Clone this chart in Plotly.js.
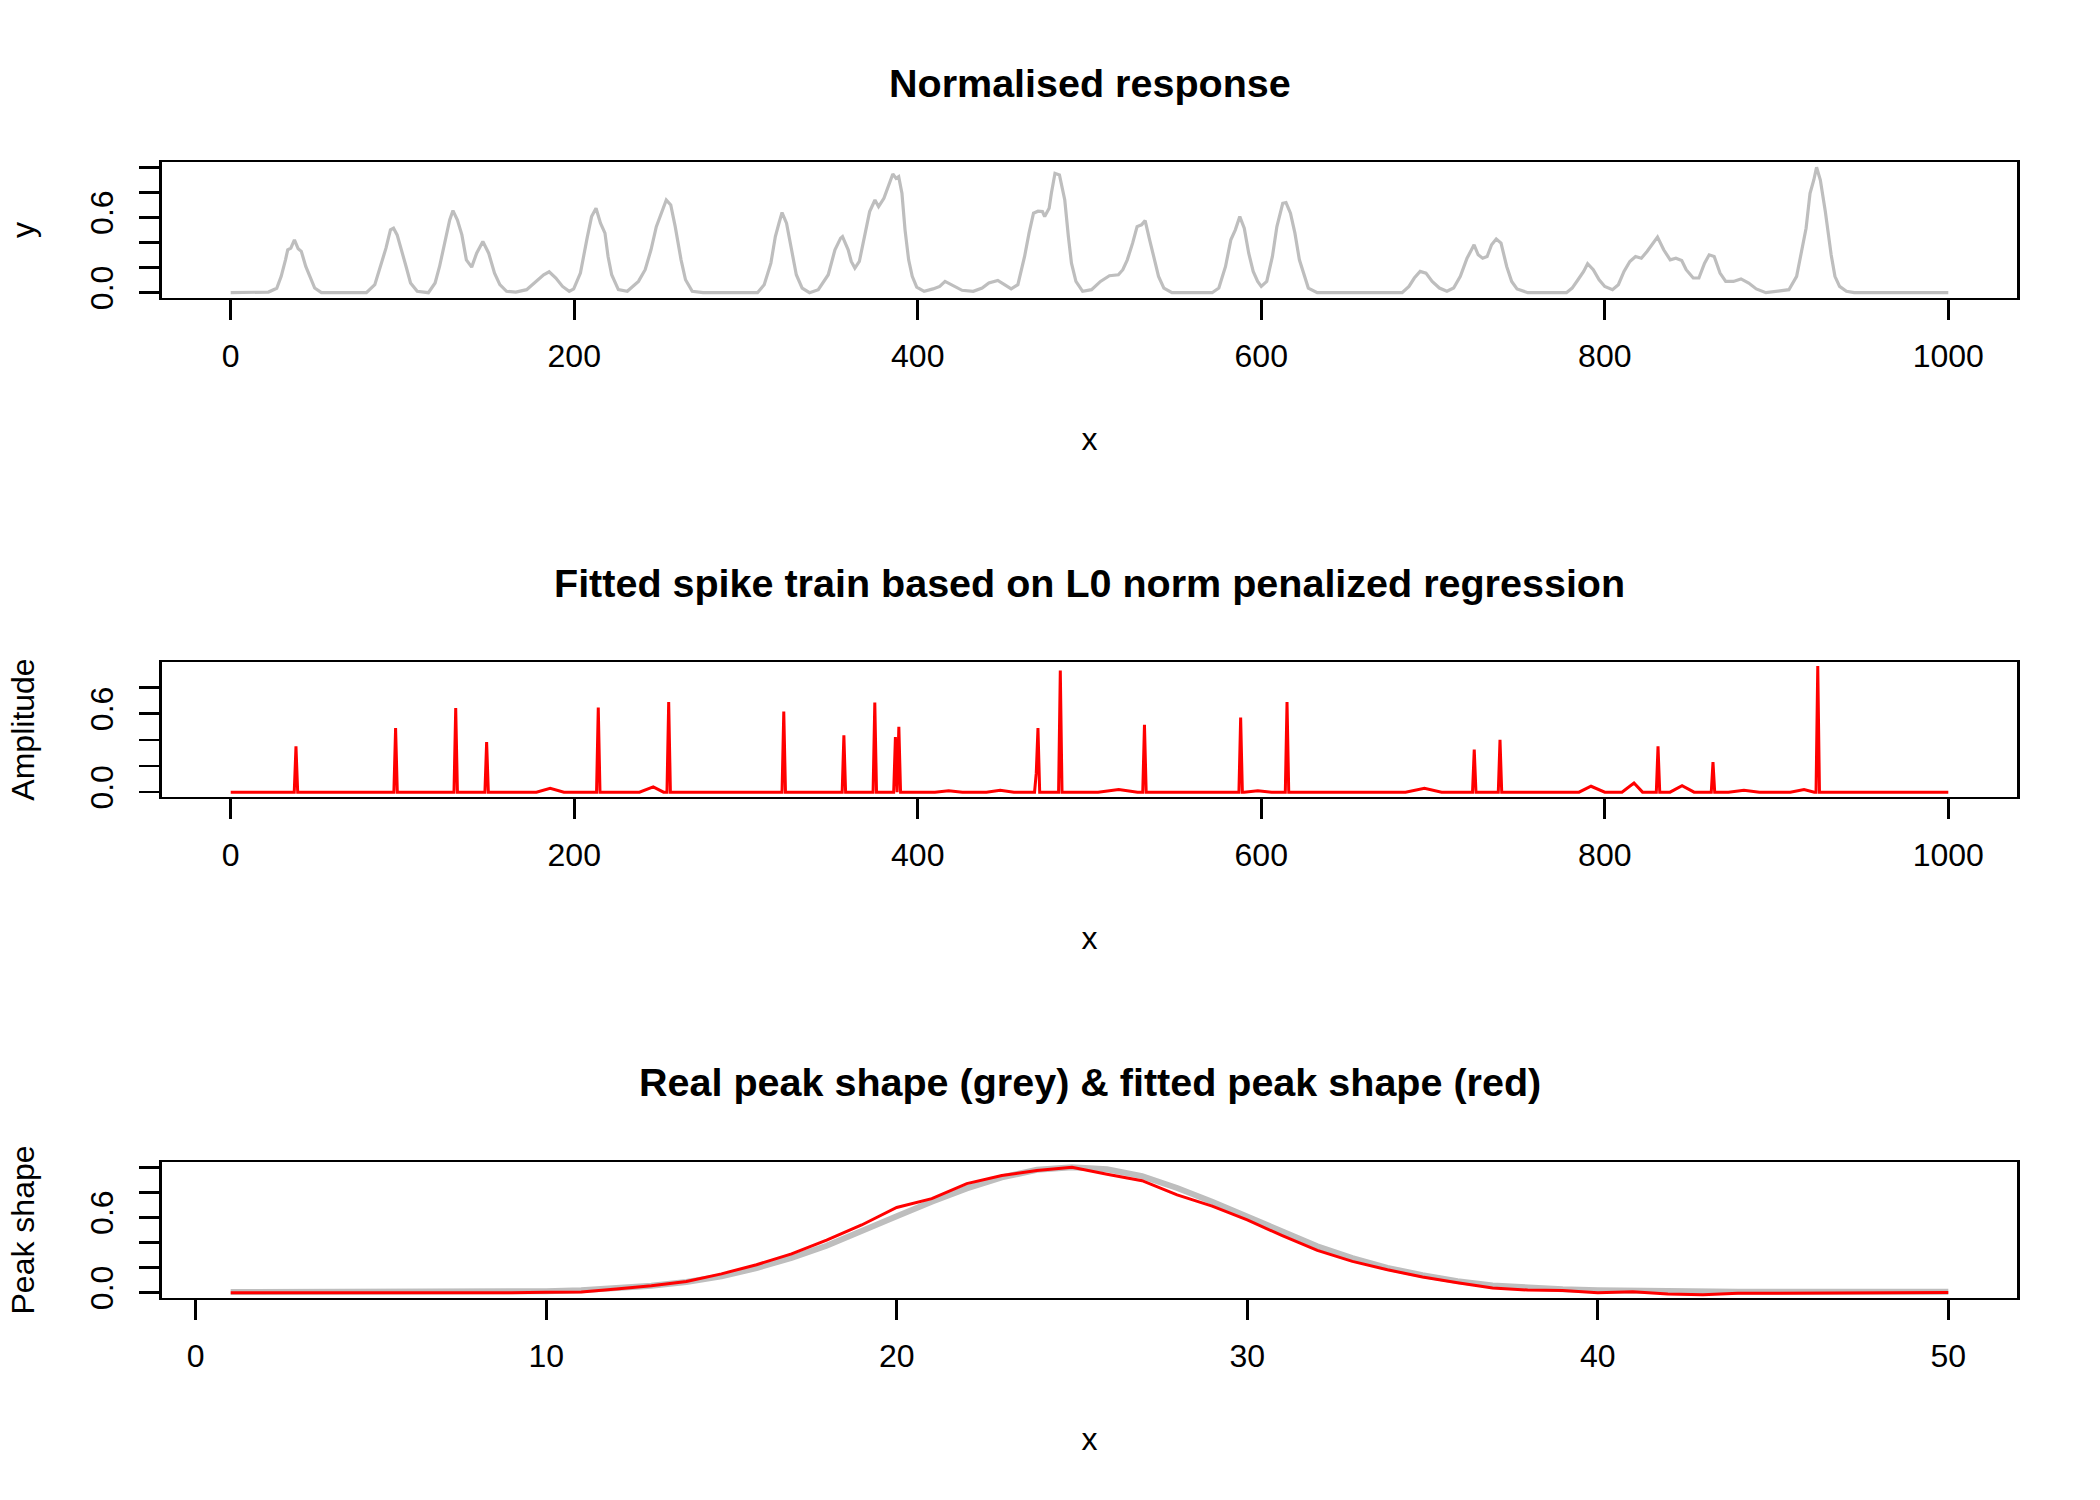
<!DOCTYPE html>
<html><head><meta charset="utf-8">
<script src="https://cdn.plot.ly/plotly-3.0.1.min.js"></script>
<style>html,body{margin:0;padding:0;background:#fff}#chart{width:2100px;height:1500px}</style>
</head><body><div id="chart"></div>
<script>
// ---- Panel 1: normalised response ----
const topX = [0,19,22,26.8,29.4,31.9,33.2,35,37.1,39.3,41.1,43.7,46.3,48.9,52.8,79,83.9,87.8,90.4,93,94.8,96.9,99.5,102.1,104.7,108.6,115.1,119,121.6,125.5,127.5,129.4,132,134.6,137.2,140.3,143.2,146.8,150.2,153.6,156.7,160.6,166,172.3,177.5,182.2,185.4,189.3,193.2,197.1,199.7,203.6,207.5,210.1,212.7,215.3,217.9,219.7,221.8,225.7,230.9,237.4,241.3,244.7,247.8,250.4,253.6,256.2,258.8,262.2,264.8,268.7,275,306.7,310.6,314.5,317.1,319.2,321,323.6,326.2,329.3,332.7,337,342.1,347.9,351.8,355.1,356.2,359.5,361.3,363.4,366,368.6,372,375.1,377.2,380.3,382.9,385.5,387.4,388.9,390.8,392.6,394.7,396.8,399.4,403.7,408.9,412.8,415.9,420.6,425.8,432.3,437.5,441.4,446.6,450.5,454.4,458.3,462.2,464.8,467.4,470,472.6,473.9,476.5,477.8,479.9,482.5,485.6,487.7,489.5,492.1,496,501.2,506.4,511.6,516.8,519.4,522,525.1,527.7,530.3,532.4,535,537.6,540.2,543.3,548,571.4,575.3,579.2,582.3,584.9,587.5,590.1,592.7,595.3,597.9,600,603.2,606.5,609.1,612.5,614.4,617,619.6,622.2,624.8,627.4,632.6,682,686,689.1,692.5,695.9,699.5,703.7,708.1,712,715.9,719.8,722.4,723.9,726.3,728.9,731.5,734.1,736.8,739.6,742.9,745.8,748.9,755.2,777.7,781,784.4,787.7,790,793.3,796.7,800,804.5,807.9,811.2,814.6,817.9,821.3,824.6,827.3,830.7,834.3,838.1,841.4,844.8,847.4,851.5,854.8,858.1,860.8,863.7,867.1,870.4,874.9,879.3,883.8,888.2,893.8,907.2,911.7,915,917.2,919.5,921.7,923.3,925.5,928.4,931.8,934,936.7,940.7,945.2,1000];
const topY = [0,0,0.005,0.035,0.13,0.262,0.342,0.355,0.422,0.35,0.33,0.21,0.118,0.037,0,0,0.064,0.236,0.355,0.501,0.514,0.461,0.342,0.209,0.077,0.011,0,0.077,0.209,0.461,0.58,0.655,0.58,0.461,0.262,0.204,0.315,0.408,0.315,0.156,0.064,0.011,0.005,0.024,0.09,0.143,0.167,0.117,0.05,0.011,0.03,0.156,0.435,0.607,0.673,0.554,0.475,0.289,0.143,0.024,0.011,0.09,0.183,0.342,0.527,0.62,0.739,0.70,0.527,0.262,0.103,0.011,0,0,0.064,0.236,0.448,0.554,0.639,0.554,0.368,0.143,0.037,0,0.024,0.143,0.342,0.435,0.448,0.342,0.249,0.196,0.249,0.422,0.647,0.739,0.686,0.753,0.846,0.947,0.912,0.925,0.793,0.501,0.262,0.13,0.045,0.011,0.03,0.05,0.09,0.056,0.019,0.011,0.037,0.077,0.098,0.064,0.03,0.064,0.289,0.475,0.634,0.65,0.647,0.607,0.673,0.793,0.952,0.939,0.739,0.448,0.236,0.09,0.011,0.024,0.09,0.135,0.143,0.183,0.262,0.395,0.527,0.541,0.575,0.422,0.262,0.13,0.037,0,0,0.037,0.209,0.422,0.501,0.607,0.514,0.315,0.17,0.09,0.05,0.09,0.289,0.527,0.713,0.718,0.634,0.475,0.262,0.156,0.037,0,0,0.05,0.117,0.17,0.156,0.09,0.037,0.011,0.037,0.13,0.275,0.342,0.382,0.302,0.275,0.289,0.382,0.428,0.395,0.209,0.09,0.03,0,0,0.037,0.103,0.17,0.231,0.183,0.103,0.05,0.024,0.064,0.17,0.249,0.289,0.275,0.328,0.382,0.443,0.342,0.262,0.275,0.257,0.183,0.117,0.117,0.236,0.302,0.289,0.156,0.09,0.09,0.11,0.077,0.03,0,0.024,0.13,0.368,0.514,0.793,0.899,1.0,0.899,0.647,0.302,0.13,0.05,0.011,0,0];

// ---- Panel 2: fitted spike train ----
const spikeX = [38,96,131,149,214,255,322,357,375,387,389,469,470,483,532,588,615,724,739,831,863,924];
const spikeH = [0.35,0.49,0.643,0.384,0.648,0.689,0.617,0.434,0.686,0.422,0.50,0.145,0.49,0.93,0.516,0.571,0.689,0.325,0.40,0.35,0.23,0.965];
const baseX = [0,178,186,194,238,246,252,410,418,426,440,448,456,505,517,528,590,598,606,684,695,705,785,792,800,810,817,822,838,845,852,872,881,890,908,916,922,1000];
const baseY = [0,0,0.03,0,0,0.04,0,0,0.01,0,0,0.015,0,0,0.02,0,0,0.01,0,0,0.03,0,0,0.045,0,0,0.07,0,0,0.05,0,0,0.015,0,0,0.02,0,0];

// ---- Panel 3: peak shapes ----
const shapeX = [1,2,3,4,5,6,7,8,9,10,11,12,13,14,15,16,17,18,19,20,21,22,23,24,25,26,27,28,29,30,31,32,33,34,35,36,37,38,39,40,41,42,43,44,45,46,47,48,49,50];
const realShape = [0.005,0.005,0.005,0.005,0.005,0.005,0.005,0.006,0.008,0.012,0.02,0.034,0.056,0.085,0.13,0.196,0.278,0.374,0.487,0.61,0.726,0.832,0.92,0.98,1.0,0.985,0.93,0.835,0.726,0.607,0.487,0.37,0.275,0.198,0.14,0.092,0.058,0.038,0.027,0.02,0.015,0.012,0.01,0.008,0.008,0.008,0.008,0.008,0.008,0.008];
const fittedShape = [0.0,0.0,-0.003,-0.005,-0.005,-0.004,-0.003,-0.002,0.0,0.003,0.005,0.03,0.055,0.09,0.15,0.223,0.31,0.42,0.54,0.68,0.75,0.87,0.935,0.975,1.0,0.945,0.893,0.78,0.69,0.58,0.455,0.337,0.25,0.183,0.125,0.08,0.037,0.021,0.018,0.0,0.008,-0.01,-0.016,-0.005,-0.003,-0.003,-0.002,0.0,0.001,0.002];

// ---- Ticks and labels ----
const xTicksLong = [0,200,400,600,800,1000];
const xTicksShort = [0,10,20,30,40,50];
const yTicks6 = [0,0.2,0.4,0.6,0.8,1.0];
const yText6 = ['0.0','','','0.6','',''];
const yTicks5 = [0,0.2,0.4,0.6,0.8];
const yText5 = ['0.0','','','0.6',''];
const panelTitles = ['Normalised response','Fitted spike train based on L0 norm penalized regression','Real peak shape (grey) & fitted peak shape (red)'];
const yTitles = ['y','Amplitude','Peak shape'];

// build spike-train line from sparse readings
const amp = {};
baseX.forEach((x,i)=>{amp[x]=baseY[i];});
spikeX.forEach(x=>{
  [x-1,x+1].forEach(n=>{ if(spikeX.indexOf(n)<0) amp[n]=0; });
});
spikeX.forEach((x,i)=>{amp[x]=spikeH[i];});
const ampX = Object.keys(amp).map(Number).sort((a,b)=>a-b);
const ampY = ampX.map(x=>amp[x]);

const FONT = 'Liberation Sans, Arial, sans-serif';
const LW = 2.7;
const W = 2100, H = 1500;
const xDom = [162/W, 2017/W];
const boxes = [[162.3,297.7],[662.3,796.7],[1162.3,1297.7]];
const yDom = boxes.map(b=>[1-b[1]/H, 1-b[0]/H]);
const titleY = [83, 582.6, 1082].map(v=>1-v/H);

function xax(dom, range, ticks, anchor){
  return {domain:dom, range:range, anchor:anchor, showline:true, mirror:true, linecolor:'#000', linewidth:LW,
    ticks:'outside', ticklen:20, tickwidth:LW, tickcolor:'#000', tickvals:ticks, ticktext:ticks.map(String),
    showgrid:false, zeroline:false, tickfont:{family:FONT,size:32,color:'#000'}, ticklabelstandoff:8,
    title:{text:'x', font:{family:FONT,size:32,color:'#000'}, standoff:55}};
}
function yax(dom, range, ticks, text, anchor, title){
  return {domain:dom, range:range, anchor:anchor, showline:true, mirror:true, linecolor:'#000', linewidth:LW,
    ticks:'outside', ticklen:20, tickwidth:LW, tickcolor:'#000', tickvals:ticks, ticktext:text, tickangle:-90,
    showgrid:false, zeroline:false, tickfont:{family:FONT,size:32,color:'#000'}, ticklabelstandoff:14,
    title:{text:title, font:{family:FONT,size:32,color:'#000'}, standoff:40}};
}

const data = [
  {x:topX, y:topY, type:'scatter', mode:'lines', line:{color:'#BEBEBE', width:3.2}, xaxis:'x', yaxis:'y'},
  {x:ampX, y:ampY, type:'scatter', mode:'lines', line:{color:'#FF0000', width:3}, xaxis:'x2', yaxis:'y2'},
  {x:shapeX, y:realShape, type:'scatter', mode:'lines', line:{color:'#BEBEBE', width:6}, xaxis:'x3', yaxis:'y3'},
  {x:shapeX, y:fittedShape, type:'scatter', mode:'lines', line:{color:'#FF0000', width:3}, xaxis:'x3', yaxis:'y3'}
];

const layout = {
  width:W, height:H, margin:{l:0,r:0,t:0,b:0}, showlegend:false,
  paper_bgcolor:'#fff', plot_bgcolor:'#fff', font:{family:FONT, color:'#000'},
  xaxis: xax(xDom, [-40,1040], xTicksLong, 'y'),
  yaxis: yax(yDom[0], [-0.04,1.04], yTicks6, yText6, 'x', yTitles[0]),
  xaxis2: xax(xDom, [-40,1040], xTicksLong, 'y2'),
  yaxis2: yax(yDom[1], [-0.035,0.9935], yTicks5, yText5, 'x2', yTitles[1]),
  xaxis3: xax(xDom, [-0.96,51.96], xTicksShort, 'y3'),
  yaxis3: yax(yDom[2], [-0.04,1.04], yTicks6, yText6, 'x3', yTitles[2]),
  annotations: panelTitles.map((t,i)=>({text:'<b>'+t+'</b>', xref:'paper', yref:'paper', x:(xDom[0]+xDom[1])/2, y:titleY[i],
    xanchor:'center', yanchor:'middle', showarrow:false, font:{family:FONT, size:39.5, color:'#000'}}))
};

Plotly.newPlot('chart', data, layout, {displayModeBar:false, staticPlot:true});
</script>
</body></html>
